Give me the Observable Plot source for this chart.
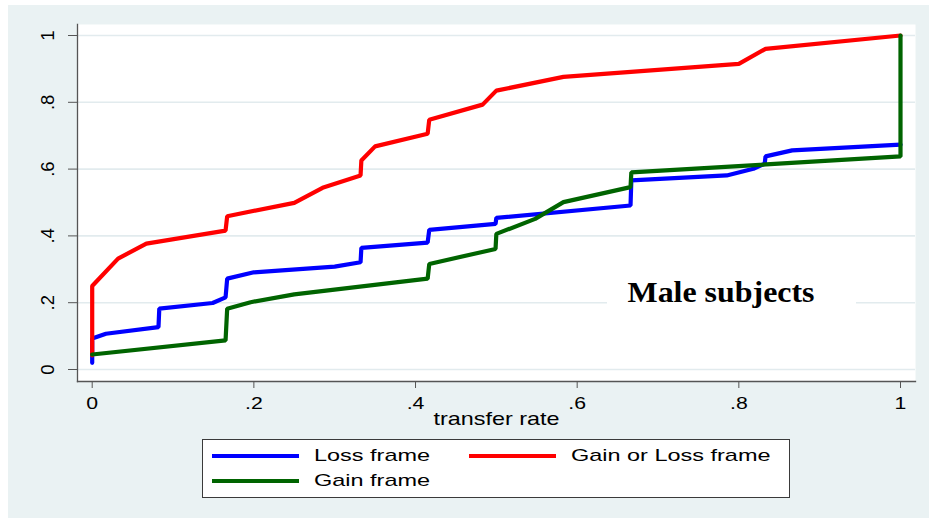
<!DOCTYPE html>
<html><head><meta charset="utf-8">
<script src="https://cdn.jsdelivr.net/npm/d3@7"></script>
<script src="https://cdn.jsdelivr.net/npm/@observablehq/plot@0.6"></script>
<style>
html,body{margin:0;padding:0;background:#fff;}
#wrap{position:absolute;left:8px;top:5px;width:921px;height:513px;background:#eaf2f3;overflow:hidden;}
#chart{position:absolute;left:0;top:0;}
#legend{position:absolute;left:194px;top:434px;width:586px;height:57px;background:#fff;border:1px solid #3a3a3a;font-family:"Liberation Sans",Arial,sans-serif;font-size:17px;color:#000;}
.item{position:absolute;height:20px;width:250px;}
.sw{position:absolute;left:0;top:8px;width:87px;height:4px;}
.lab{position:absolute;left:102px;top:0;line-height:20px;white-space:nowrap;transform-origin:0 50%;transform:scaleX(1.38);}
</style></head><body>
<div id="wrap"><div id="chart"></div><div id="legend"></div></div>
<script>
// ---- data ----
const seriesNames = ["Loss frame", "Gain or Loss frame", "Gain frame"];
const seriesColors = ["#0000ff", "#ff0000", "#006400"];

const lossX = [0, 0, 0.017, 0.082, 0.083, 0.149, 0.165, 0.167, 0.2, 0.3, 0.332, 0.333, 0.415, 0.417, 0.499, 0.5, 0.666, 0.667, 0.785, 0.818, 0.832, 0.833, 0.866, 1];
const lossY = [0.02, 0.093, 0.107, 0.127, 0.182, 0.199, 0.216, 0.272, 0.291, 0.308, 0.321, 0.364, 0.380, 0.418, 0.436, 0.454, 0.491, 0.566, 0.581, 0.601, 0.616, 0.638, 0.656, 0.673];

const gainLossX = [0, 0, 0.032, 0.067, 0.165, 0.167, 0.25, 0.285, 0.332, 0.333, 0.35, 0.415, 0.417, 0.483, 0.5, 0.583, 0.8, 0.833, 1];
const gainLossY = [0.042, 0.25, 0.332, 0.377, 0.416, 0.459, 0.499, 0.544, 0.581, 0.626, 0.668, 0.706, 0.748, 0.793, 0.835, 0.876, 0.915, 0.96, 1];

const gainX = [0, 0.165, 0.167, 0.196, 0.25, 0.415, 0.417, 0.499, 0.5, 0.548, 0.583, 0.666, 0.667, 1, 1];
const gainY = [0.045, 0.087, 0.182, 0.2015, 0.225, 0.272, 0.316, 0.361, 0.406, 0.451, 0.501, 0.546, 0.59, 0.638, 1];

const xTicks = [0, 0.2, 0.4, 0.6, 0.8, 1];
const yTicks = [0, 0.2, 0.4, 0.6, 0.8, 1];
const xTitle = "transfer rate";
const noteText = "Male subjects";

// annotation placement (data coordinates)
const notePos = {x: 0.6623, y: 0.229};
const noteBox = {x1: 0.6375, x2: 0.9456, y1: 0.185, y2: 0.275};

// ---- build ----
const seriesX = [lossX, gainLossX, gainX];
const seriesY = [lossY, gainLossY, gainY];
const rows = seriesNames.flatMap((name, k) => seriesX[k].map((x, i) => ({series: name, x, y: seriesY[k][i]})));
const fmt = d => d === 0 ? "0" : d === 1 ? "1" : String(d).replace(/^0/, "");

const chart = Plot.plot({
  width: 921, height: 430,
  marginLeft: 69, marginRight: 14, marginTop: 19, marginBottom: 54,
  style: {background: "transparent", fontFamily: "'Liberation Sans', Arial, sans-serif", fontSize: "17px", color: "#000", overflow: "visible"},
  x: {domain: [0, 1], insetLeft: 14.7, insetRight: 15},
  y: {domain: [0, 1], insetTop: 11, insetBottom: 12},
  color: {domain: seriesNames, range: seriesColors},
  marks: [
    Plot.frame({fill: "#fff", stroke: null}),
    Plot.gridY(yTicks, {stroke: "#e2ebee", strokeOpacity: 1, strokeWidth: 1.6}),
    Plot.rect([noteBox], {x1: "x1", x2: "x2", y1: "y1", y2: "y2", fill: "#fff"}),
    Plot.line(rows, {x: "x", y: "y", z: "series", stroke: "series", strokeWidth: 4.2, strokeLinejoin: "miter"}),
    Plot.text([notePos], {x: "x", y: "y", text: () => noteText, textAnchor: "start", fontFamily: "'Liberation Serif','Times New Roman',serif", fontWeight: "bold", fontSize: 28.5, fill: "#000"}),
    Plot.frame({anchor: "left", stroke: "#555", strokeWidth: 1.3}),
    Plot.frame({anchor: "bottom", stroke: "#555", strokeWidth: 1.3}),
    Plot.axisY(yTicks, {tickSize: 9, tickPadding: 15, tickRotate: -90, tickFormat: fmt, stroke: "#555", fill: "#000", label: null, fontSize: 18.5}),
    Plot.axisX(xTicks, {tickSize: 7, tickPadding: 8, tickFormat: fmt, stroke: "#555", fill: "#000", label: null, fontSize: 17}),
    Plot.text([xTitle], {frameAnchor: "bottom", dy: 43, fontSize: 19, fill: "#000"})
  ]
});
document.getElementById("chart").append(chart);

// horizontal stretch of texts to match the reference's wide glyphs
chart.querySelectorAll("text").forEach(t => {
  const s = t.textContent;
  let target = null;
  const L = t.getComputedTextLength();
  if (s === xTitle) target = 126;
  else if (s === noteText) target = 187;
  else if (t.closest('[aria-label="x-axis tick label"]')) target = L * 1.25;
  if (target != null && L > 0) {
    t.setAttribute("textLength", target);
    t.setAttribute("lengthAdjust", "spacingAndGlyphs");
    t.querySelectorAll("tspan").forEach(ts => {
      ts.setAttribute("textLength", target);
      ts.setAttribute("lengthAdjust", "spacingAndGlyphs");
    });
  }
});

// ---- legend ----
const legend = document.getElementById("legend");
const slots = [[9, 6], [266, 6], [9, 31]];
seriesNames.forEach((name, k) => {
  const it = document.createElement("div");
  it.className = "item";
  it.style.left = slots[k][0] + "px";
  it.style.top = slots[k][1] + "px";
  const sw = document.createElement("div");
  sw.className = "sw";
  sw.style.background = seriesColors[k];
  const lab = document.createElement("span");
  lab.className = "lab";
  lab.textContent = name;
  it.append(sw, lab);
  legend.append(it);
});
</script></body></html>
